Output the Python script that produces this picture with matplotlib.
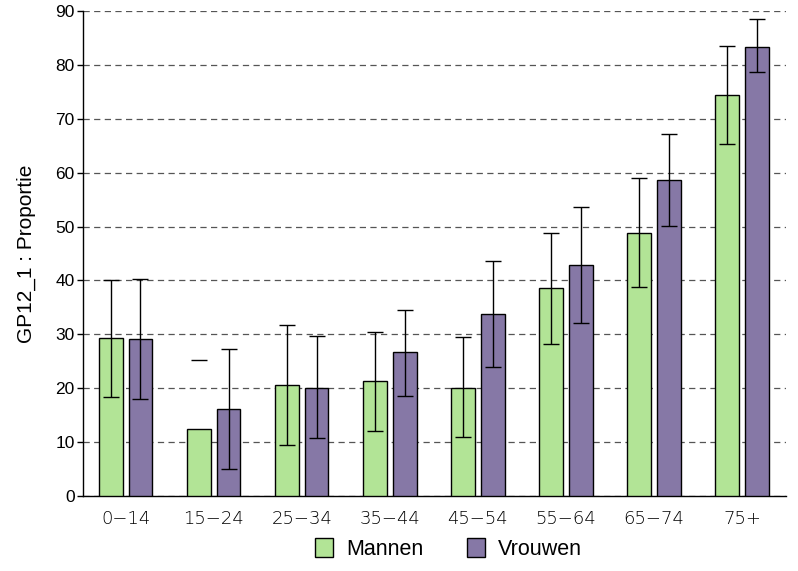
import numpy as np
import matplotlib
matplotlib.use("Agg")
import matplotlib.pyplot as plt
from matplotlib.patches import Patch

plt.rcParams['font.family'] = ['Liberation Sans', 'DejaVu Sans']

categories = ["0\u221214", "15\u221224", "25\u221234", "35\u221244", "45\u221254", "55\u221264", "65\u221274", "75+"]
mannen = [29.3, 12.4, 20.6, 21.3, 20.1, 38.6, 48.9, 74.4]
mannen_low = [18.4, np.nan, 9.5, 12.1, 10.9, 28.2, 38.7, 65.3]
mannen_high = [40.1, 25.2, 31.7, 30.4, 29.5, 48.9, 59.1, 83.6]
vrouwen = [29.1, 16.1, 20.1, 26.7, 33.8, 42.8, 58.6, 83.4]
vrouwen_low = [18.0, 5.0, 10.8, 18.5, 23.9, 32.1, 50.2, 78.7]
vrouwen_high = [40.2, 27.3, 29.7, 34.5, 43.6, 53.7, 67.1, 88.5]
yticks = [0, 10, 20, 30, 40, 50, 60, 70, 80, 90]

green = "#b2e496"
purple = "#8678a6"

fig = plt.figure(figsize=(7.98, 5.71), dpi=100)
ax = fig.add_axes([0.104, 0.1313, 0.881, 0.8494])

x = np.arange(len(categories))
w = 0.27
off = 0.168

ax.bar(x - off, mannen, w, color=green, edgecolor="black", linewidth=1.0, zorder=3)
ax.bar(x + off, vrouwen, w, color=purple, edgecolor="black", linewidth=1.0, zorder=3)

def draw_err(xs, lows, highs):
    for xi, lo, hi in zip(xs, lows, highs):
        if np.isnan(lo):
            ax.plot([xi], [hi], marker="_", markersize=11.5, markeredgewidth=1.0,
                    color="black", zorder=4)
        else:
            mid = (lo + hi) / 2
            ax.errorbar([xi], [mid], yerr=[[mid - lo], [hi - mid]], fmt="none",
                        ecolor="black", elinewidth=1.0, capsize=5.75, capthick=1.0, zorder=4)

draw_err(x - off, mannen_low, mannen_high)
draw_err(x + off, vrouwen_low, vrouwen_high)

ax.set_xlim(-0.485, 7.5)
ax.set_ylim(0, 90)
ax.set_yticks(yticks)
ax.set_xticks(x)
ax.set_xticklabels(categories, fontsize=13, family=['DejaVu Sans'], fontweight='light', color="black")
ax.tick_params(axis="x", length=0, pad=10)
ax.tick_params(axis="y", length=4, width=1, labelsize=12.5, direction="out", pad=2)
ax.yaxis.grid(True, linestyle=(0, (5, 3.5)), color="#555555", linewidth=0.9, zorder=0)
ax.set_axisbelow(True)
for s in ["top", "right"]:
    ax.spines[s].set_visible(False)
ax.spines["left"].set_linewidth(1.0)
ax.spines["bottom"].set_linewidth(1.0)

ax.set_ylabel("GP12_1 : Proportie", fontsize=15, labelpad=14)

handles = [Patch(facecolor=green, edgecolor="black", label="Mannen"),
           Patch(facecolor=purple, edgecolor="black", label="Vrouwen")]
fig.legend(handles=handles, loc="center", bbox_to_anchor=(0.562, 0.039), ncol=2,
           frameon=False, fontsize=15.5, handlelength=0.85, handleheight=1.0,
           columnspacing=2.0, handletextpad=0.6)

fig.savefig("out.png", dpi=100)
